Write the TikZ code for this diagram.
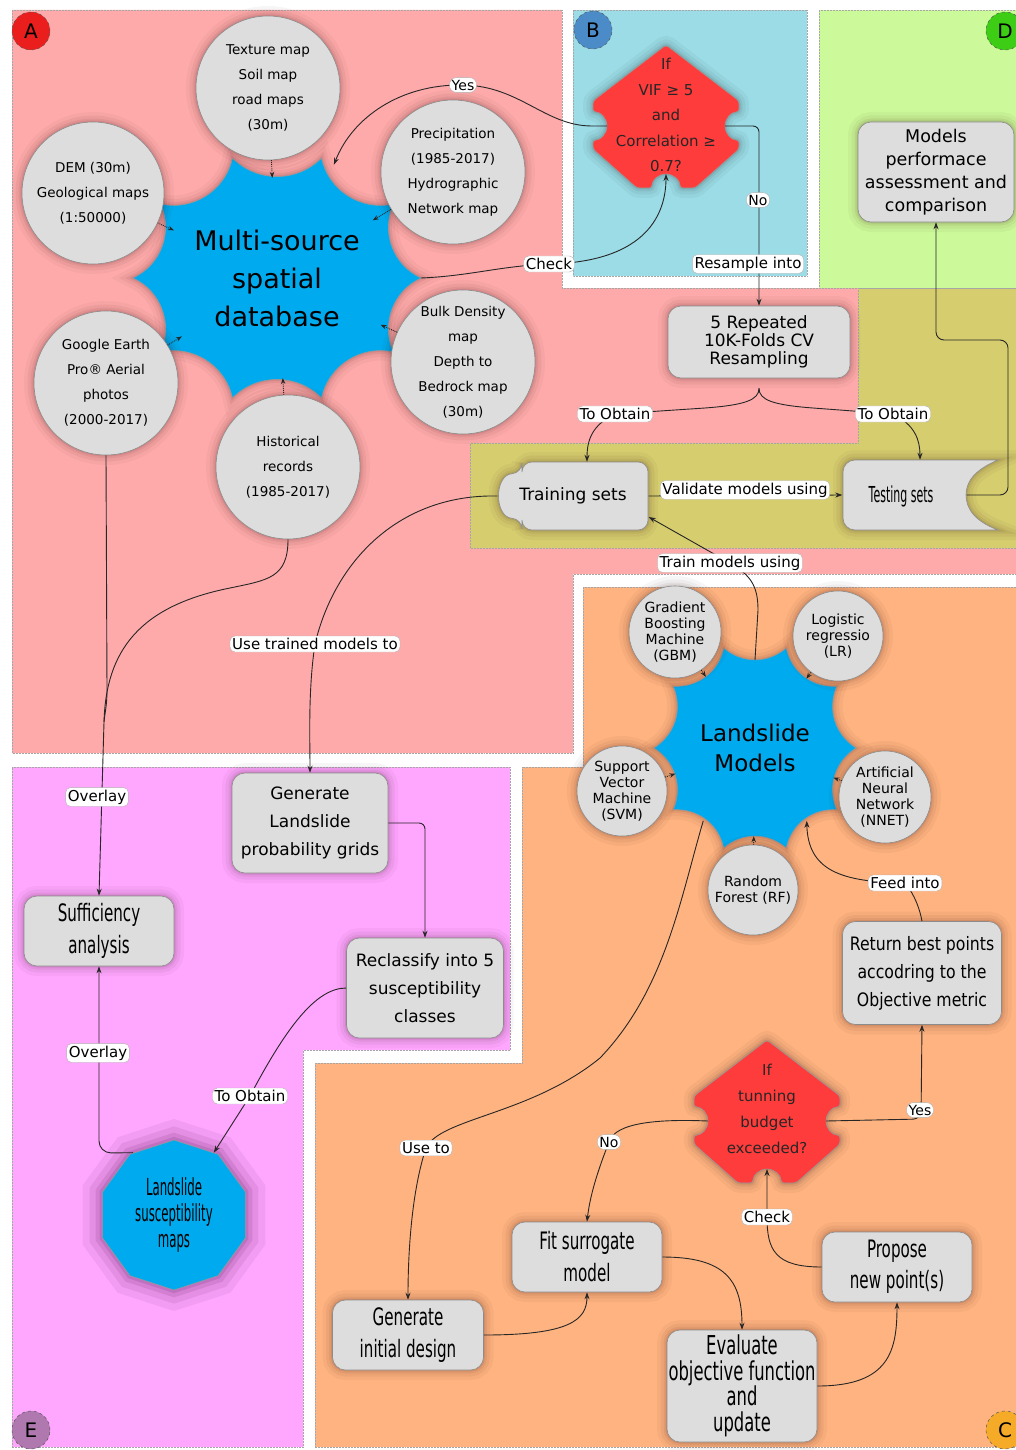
\documentclass[tikz,border=0pt]{standalone}
\usepackage{fontspec}
\setmainfont{DejaVu Sans}
\newfontfamily\cond[FakeStretch=0.63]{DejaVu Sans}
\newfontfamily\condx[FakeStretch=0.5]{DejaVu Sans}
\newfontfamily\semi[FakeStretch=0.85]{DejaVu Sans}
\usetikzlibrary{arrows.meta,shapes.geometric,calc}
\pgfdeclarelayer{back}
\pgfdeclarelayer{front}
\pgfsetlayers{back,main,front}
\definecolor{pinkA}{RGB}{255,170,170}
\definecolor{blueB}{RGB}{155,220,230}
\definecolor{greenD}{RGB}{204,249,154}
\definecolor{oliveR}{RGB}{214,205,110}
\definecolor{magE}{RGB}{255,166,255}
\definecolor{orangeC}{RGB}{255,179,128}
\definecolor{starblue}{RGB}{0,170,238}
\definecolor{decred}{RGB}{255,60,60}
\definecolor{nodegray}{RGB}{221,221,221}
\definecolor{cA}{RGB}{235,30,30}
\definecolor{cB}{RGB}{75,140,200}
\definecolor{cC}{RGB}{245,170,40}
\definecolor{cD}{RGB}{60,205,20}
\definecolor{cE}{RGB}{175,120,175}
\tikzset{
  region/.style={draw=black!35, densely dotted, line width=0.5pt},
  halo/.style={preaction={draw=#1, opacity=0.035, line width=20pt},
               preaction={draw=#1, opacity=0.045, line width=13pt},
               preaction={draw=#1, opacity=0.06, line width=7pt},
               preaction={draw=#1, opacity=0.08, line width=3pt}},
  halo/.default=black,
  biglow/.style={preaction={draw=#1, opacity=0.06, line width=40pt},
               preaction={draw=#1, opacity=0.08, line width=26pt},
               preaction={draw=#1, opacity=0.10, line width=14pt},
               preaction={draw=#1, opacity=0.12, line width=6pt}},
  grayfill/.style={draw=black!45, line width=0.6pt, fill=nodegray, halo=black!85!red},
  graybox/.style={grayfill, rectangle, rounded corners=13pt, align=center, inner sep=0pt},
  satc/.style={grayfill, circle, inner sep=0pt, minimum size=144pt},
  sattxt/.style={align=center, inner sep=0pt, font=\fontsize{13.5}{25}\selectfont},
  modc/.style={grayfill, circle, inner sep=0pt, minimum size=92pt},
  modtxt/.style={align=center, inner sep=0pt, font=\fontsize{14}{16}\selectfont},
  lbl/.style={fill=white, rounded corners=5pt, inner sep=2.2pt, draw=black!30, line width=0.4pt, font=\fontsize{15}{17}\selectfont},
  lbls/.style={lbl, rounded corners=7pt, font=\fontsize{14}{16}\selectfont},
  conn/.style={draw=black!85, line width=0.9pt, -{Stealth[length=7pt,width=5pt]}},
  plain/.style={draw=black!85, line width=0.9pt},
  dots/.style={draw=black!85, line width=0.9pt, densely dotted, -{Stealth[length=6pt,width=4.5pt]}},
  corner/.style={circle, minimum size=38pt, inner sep=0pt, draw=black!65, dashed, line width=0.5pt, font=\fontsize{20}{24}\selectfont},
  starshape/.style={draw=black!40, line width=0.6pt, fill=starblue, halo=black!80!red},
  dectxt/.style={align=center, inner sep=0pt, text=black!85, font=\fontsize{15}{25.5}\selectfont},
  decision/.pic={
    \path[draw=black!40, line width=0.6pt, fill=decred, halo=black, rounded corners=3pt]
      (0,-71) -- (73,-15) -- (73,-4) arc[start angle=90,end angle=270,radius=14pt] -- (73,33) -- (29,72) -- (14,72)
      arc[start angle=0,end angle=180,radius=14pt] -- (-29,72) -- (-73,33) -- (-73,24)
      arc[start angle=-90,end angle=90,radius=14pt] -- (-73,-15) -- cycle;
    \coordinate (-L) at (-59,10);
    \coordinate (-R) at (59,10);
    \coordinate (-B) at (0,58);
  }
}
\begin{document}
\begin{tikzpicture}[x=1pt,y=-1pt]
\useasboundingbox (0,0) rectangle (1016,1450);
% ---------------- regions
\begin{pgfonlayer}{back}
\fill[white] (0,0) rectangle (1016,1450);
\filldraw[region, fill=pinkA] (12,10) -- (562,10) -- (562,288) -- (1016,288) -- (1016,574) -- (573,574) -- (573,753) -- (12,753) -- cycle;
\filldraw[region, fill=oliveR] (858,288) -- (1016,288) -- (1016,548) -- (470,548) -- (470,443) -- (858,443) -- cycle;
\filldraw[region, fill=blueB] (573,10) rectangle (807,276);
\filldraw[region, fill=greenD] (819,10) rectangle (1016,288);
\filldraw[region, fill=magE] (12,767) -- (510,767) -- (510,1050) -- (303,1050) -- (303,1447) -- (12,1447) -- cycle;
\filldraw[region, fill=orangeC] (583,587) -- (1016,587) -- (1016,1447) -- (315,1447) -- (315,1063) -- (522,1063) -- (522,767) -- (583,767) -- cycle;
\end{pgfonlayer}
% ---------------- corner letters
\node[corner, fill=cA] (kA) at (31,31) {A};
\node[corner, fill=cB] (kB) at (593,30) {B};
\node[corner, fill=cD] (kD) at (1005,31) {D};
\node[corner, fill=cE] (kE) at (31,1430) {E};
\node[corner, fill=cC] (kC) at (1005,1430) {C};
% ---------------- multi-source star
\coordinate (msc) at (277,278);
\path[starshape] ($(msc)+(0:144pt and 126pt)$) \foreach \i in {1,...,10}{ to[bend left=45] ($(msc)+(\i*36:144pt and 126pt)$) } -- cycle;
\node[ellipse, minimum width=232pt, minimum height=200pt, inner sep=0pt, align=center, font=\fontsize{27}{38}\selectfont] (ms) at (msc) {Multi-source\\spatial\\database};
\coordinate (msE) at ($(msc)+(0:144pt and 126pt)$);
\coordinate (msT) at ($(msc)+(66:140pt and 124pt)$);
% satellites
\node[satc] (tex) at (268,88) {};
\node[sattxt] (tex-t) at (tex) {Texture map\\Soil map\\road maps\\(30m)};
\node[satc, minimum size=142pt] (dem) at (93,193) {};
\node[sattxt] (dem-t) at (dem) {DEM (30m)\\Geological maps\\(1:50000)};
\node[satc] (pre) at (453,172) {};
\node[sattxt] (pre-t) at (pre) {Precipitation\\(1985-2017)\\Hydrographic\\Network map};
\node[satc] (bulk) at (463,362) {};
\node[sattxt] (bulk-t) at (bulk) {Bulk Density\\map\\Depth to\\Bedrock map\\(30m)};
\node[satc] (goog) at (106,383) {};
\node[sattxt] (goog-t) at (goog) {Google Earth\\Pro® Aerial\\photos\\(2000-2017)};
\node[satc] (hist) at (288,467) {};
\node[sattxt] (hist-t) at (hist) {Historical\\records\\(1985-2017)};
\foreach \s in {tex,dem,pre,bulk,goog,hist}{ \draw[dots] (\s) -- (ms); }
% ---------------- VIF decision
\pic (vif) at (666,116) {decision};
\node[dectxt] (vif-t) at (666,115) {If\\VIF ≥ 5\\and\\Correlation ≥\\0.7?};
% ---------------- boxes top right
\node[graybox, minimum width=182pt, minimum height=72pt, font=\fontsize{17}{18}\selectfont] (rep) at (759,342) {5 Repeated\\10K-Folds CV\\Resampling};
\node[graybox, minimum width=156pt, minimum height=100pt, font=\fontsize{17.5}{23}\selectfont] (perf) at (936,172) {Models\\performace\\assessment and\\comparison};
% training / testing shapes
\path[grayfill, rounded corners=10pt] (522,462) -- (648,462) -- (648,530) -- (522,530) -- (522,519) .. controls (494,517) and (494,475) .. (522,473) -- cycle;
\node[inner sep=0pt, minimum width=151pt, minimum height=68pt, font=\fontsize{17}{20}\selectfont] (train) at (573,496) {Training sets};
\path[grayfill] (998,460) .. controls (974,470) and (966,482) .. (966,495) .. controls (966,508) and (974,521) .. (998,530) -- (855,530) arc[start angle=270,end angle=180,radius=12pt] -- (843,472) arc[start angle=180,end angle=90,radius=12pt] -- cycle;
\node[inner sep=0pt, minimum width=155pt, minimum height=70pt] (test) at (920,495) {};
\node[inner sep=0pt, font=\condx\fontsize{22}{24}\selectfont] (test-t) at (901,496) {Testing sets};
% ---------------- landslide models star
\coordinate (lmc) at (755,748);
\path[starshape] ($(lmc)+(0:101pt and 105pt)$) \foreach \i in {1,...,10}{ to[bend left=40] ($(lmc)+(\i*36:101pt and 105pt)$) } -- cycle;
\node[ellipse, minimum width=166pt, minimum height=176pt, inner sep=0pt, align=center, font=\fontsize{23}{30}\selectfont] (lm) at (lmc) {Landslide\\Models};
\coordinate (lmF) at ($(lmc)+(-54:88pt and 90pt)$);
\coordinate (lmU) at ($(lmc)+(234:88pt and 90pt)$);
\node[modc] (gbm) at (675,632) {};
\node[modtxt] (gbm-t) at (gbm) {Gradient\\Boosting\\Machine\\(GBM)};
\node[modc, minimum size=90pt] (lr) at (838,636) {};
\node[modtxt] (lr-t) at (lr) {Logistic\\regressio\\(LR)};
\node[modc, minimum size=90pt] (svm) at (622,791) {};
\node[modtxt] (svm-t) at (svm) {Support\\Vector\\Machine\\(SVM)};
\node[modc] (nnet) at (885,797) {};
\node[modtxt] (nnet-t) at (nnet) {Artificial\\Neural\\Network\\(NNET)};
\node[modc, minimum size=90pt] (rf) at (753,890) {};
\node[modtxt] (rf-t) at (rf) {Random\\Forest (RF)};
\foreach \s in {gbm,lr,svm,nnet,rf}{ \draw[dots] (\s) -- (lm); }
% ---------------- E region nodes
\node[graybox, minimum width=156pt, minimum height=100pt, font=\fontsize{17}{28}\selectfont] (gen1) at (310,823) {Generate\\Landslide\\probability grids};
\node[graybox, minimum width=157pt, minimum height=100pt, font=\fontsize{17}{28}\selectfont] (recl) at (425,988) {Reclassify into 5\\susceptibility\\classes};
\node[graybox, minimum width=150pt, minimum height=70pt, font=\cond\fontsize{24}{32}\selectfont] (suff) at (99,931) {Sufficiency\\analysis};
\node[regular polygon, regular polygon sides=10, shape border rotate=18, minimum size=150pt, inner sep=0pt, draw=black!40, line width=0.6pt, fill=starblue, biglow=violet!50!black] (lsm) at (174,1215) {};
\node[align=center, inner sep=0pt, font=\condx\fontsize{23.5}{26}\selectfont] (lsm-t) at (lsm) {Landslide\\susceptibility\\maps};
% ---------------- C region nodes
\pic (bud) at (767,1111) {decision};
\node[dectxt, font=\fontsize{15}{26}\selectfont] (bud-t) at (767,1109) {If\\tunning\\budget\\exceeded?};
\node[graybox, minimum width=159pt, minimum height=103pt, font=\semi\fontsize{18.5}{28}\selectfont] (ret) at (922,973) {Return best points\\accodring to the\\Objective metric};
\node[graybox, minimum width=151pt, minimum height=70pt, font=\cond\fontsize{24}{32}\selectfont] (gen2) at (408,1335) {Generate\\initial design};
\node[graybox, minimum width=150pt, minimum height=70pt, font=\cond\fontsize{24}{32}\selectfont] (fit) at (587,1257) {Fit surrogate\\model};
\node[graybox, minimum width=150pt, minimum height=112pt, font=\cond\fontsize{26}{25.5}\selectfont] (eval) at (742,1386) {Evaluate\\objective function\\and\\update};
\node[graybox, minimum width=150pt, minimum height=70pt, font=\cond\fontsize{24}{31}\selectfont] (prop) at (897,1267) {Propose\\new point(s)};
% ---------------- labels
\begin{pgfonlayer}{front}
\node[lbls] (lyes) at (463,85) {Yes};
\node[lbls] (lno) at (758,200) {No};
\node[lbl] (lres) at (748,264) {Resample into};
\node[lbl] (lchk) at (549,264) {Check};
\node[lbl] (lto1) at (615,414) {To Obtain};
\node[lbl] (lto2) at (893,414) {To Obtain};
\node[lbl] (lval) at (745,490) {Validate models using};
\node[lbl] (ltrn) at (730,563) {Train models using};
\node[lbl] (lutm) at (315,644) {Use trained models to};
\node[lbl] (lov1) at (97,797) {Overlay};
\node[lbl] (lov2) at (98,1053) {Overlay};
\node[lbl] (lobt) at (250,1096) {To Obtain};
\node[lbl] (luse) at (426,1148) {Use to};
\node[lbls] (lno2) at (609,1142) {No};
\node[lbls] (lyes2) at (920,1110) {Yes};
\node[lbl] (lchk2) at (767,1217) {Check};
\node[lbl] (lfeed) at (905,883) {Feed into};
\end{pgfonlayer}
% ---------------- connectors
\draw[conn] (vif-L) -- (592,126) .. controls (545,126) and (520,86) .. (lyes.center) .. controls (400,84) and (352,118) .. (msT);
\draw[conn] (msE) .. controls (470,276) and (500,266) .. (lchk.center) .. controls (640,262) and (666,220) .. (vif-B);
\draw[conn, rounded corners=6pt] (vif-R) -- (759,126) -- (rep.north);
\coordinate (repB) at ($(rep.south)+(0,10)$);
\draw[plain] (repB) .. controls (759,400) and (745,405) .. (705,408) -- (lto1.center);
\draw[conn] (lto1.center) .. controls (592,425) and (587,440) .. ([xshift=14pt]train.north);
\draw[plain] (repB) .. controls (759,400) and (773,405) .. (813,408) -- (lto2.center);
\draw[conn] (lto2.center) .. controls (915,425) and (920,440) .. (test.north);
\draw[conn] (train.east) -- (test.west);
\draw[conn, rounded corners=8pt] ([xshift=-31pt]test.east) -- (1008,495) -- (1008,340) -- (936,340) -- (perf.south);
\draw[conn] (lm.north) -- (758,610) .. controls (758,585) and (750,575) .. (ltrn.center) -- ([yshift=-21pt]train.east);
\draw[conn] (ret.north) .. controls (920,910) and (915,895) .. (lfeed.center) .. controls (840,882) and (808,870) .. (lmF);
\draw[conn] (lmU) .. controls (680,900) and (665,990) .. (600,1058) .. controls (530,1115) and (440,1118) .. (luse.center) .. controls (412,1190) and (408,1250) .. (gen2.north);
\draw[conn] (train.west) .. controls (400,494) and (335,560) .. (lutm.center) .. controls (308,690) and (310,740) .. (gen1.north);
\coordinate (mrg) at (104,722);
\draw[plain] (goog.south) -- (107,690) .. controls (107,705) and (105,712) .. (mrg);
\draw[conn] (hist.south) .. controls (288,578) and (268,580) .. (230,588) .. controls (140,606) and (106,650) .. (mrg) -- (suff.north);
\draw[conn, rounded corners=6pt] (gen1.east) -- (425,823) -- (recl.north);
\draw[conn] (recl.west) .. controls (315,988) and (285,1030) .. (lobt.center) -- (lsm);
\draw[conn, rounded corners=12pt] ([xshift=-41pt,yshift=-13pt]lsm.north) -- (99,1153) -- (suff.south);
\draw[conn, rounded corners=8pt] (bud-R) -- (921,1119) -- (ret.south);
\draw[conn] (bud-L) .. controls (660,1119) and (615,1122) .. (lno2.center) .. controls (598,1170) and (590,1195) .. (fit.north);
\draw[conn] (prop.west) .. controls (775,1267) and (767,1250) .. (lchk2.center) -- (bud-B);
\draw[conn] (gen2.east) .. controls (570,1335) and (587,1320) .. (fit.south);
\draw[conn] (fit.east) .. controls (725,1257) and (742,1280) .. (eval.north);
\draw[conn] (eval.east) .. controls (890,1386) and (897,1350) .. (prop.south);
\end{tikzpicture}
\end{document}
